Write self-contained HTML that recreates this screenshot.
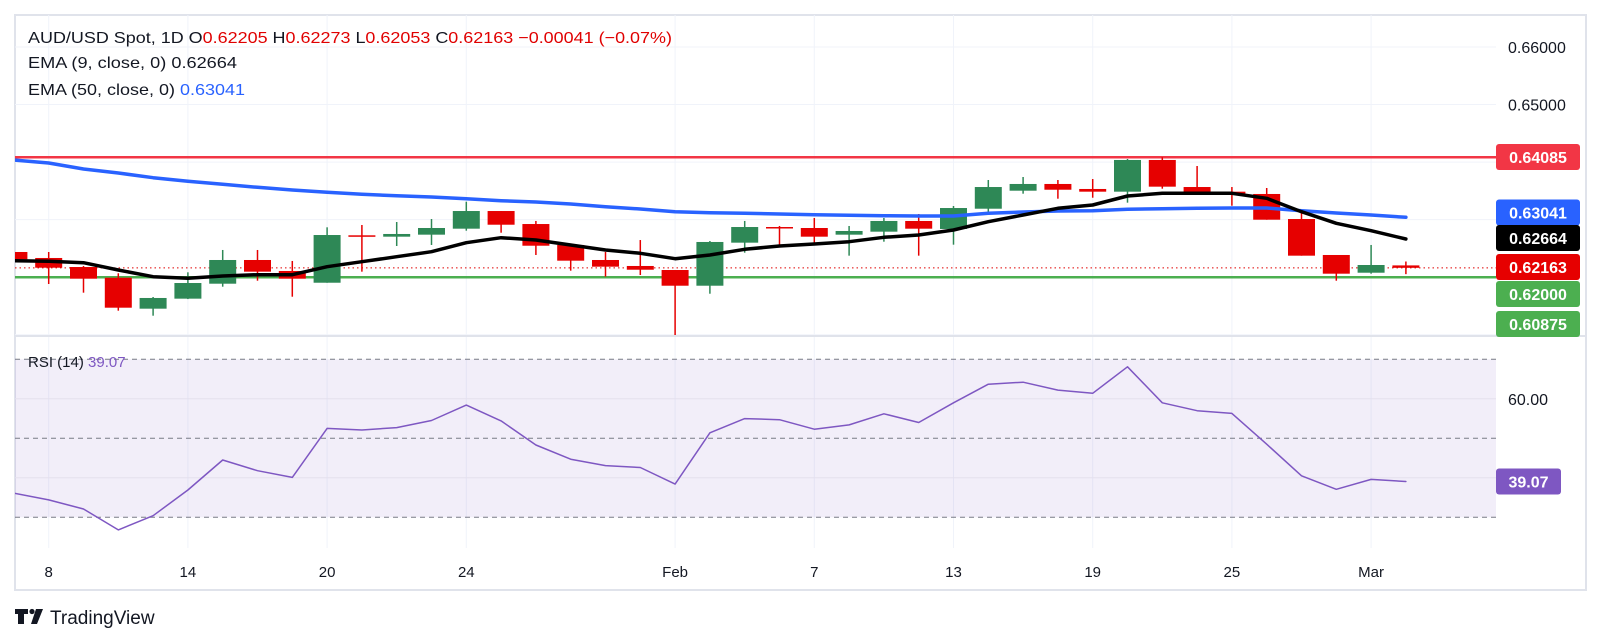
<!DOCTYPE html>
<html><head><meta charset="utf-8"><style>
html,body{margin:0;padding:0;background:#fff;}
svg{display:block;font-family:"Liberation Sans",sans-serif;}
</style></head><body>
<svg id="chart" width="1601" height="644" viewBox="0 0 1601 644" xmlns="http://www.w3.org/2000/svg">
<defs>
<clipPath id="mainClip"><rect x="15" y="15" width="1481" height="320"/></clipPath>
<clipPath id="rsiClip"><rect x="15" y="337" width="1481" height="211"/></clipPath>
</defs>
<rect x="15" y="15" width="1571" height="575" fill="#fff" stroke="#e0e3eb" stroke-width="2"/>
<g id="grid"></g>
<rect x="15" y="359.3" width="1481" height="158" fill="#7e57c2" fill-opacity="0.1"/>
<g id="rsiGuides"></g>
<line x1="15" y1="336" x2="1586" y2="336" stroke="#e0e3eb" stroke-width="2"/>
<g id="main" clip-path="url(#mainClip)"></g>
<g id="rsi" clip-path="url(#rsiClip)"></g>
<g id="axis"></g>
<g font-size="16">
<text x="28" y="43" textLength="644" lengthAdjust="spacingAndGlyphs" fill="#131722">AUD/USD Spot, 1D  O<tspan fill="#e00000">0.62205</tspan>  H<tspan fill="#e00000">0.62273</tspan>  L<tspan fill="#e00000">0.62053</tspan>  C<tspan fill="#e00000">0.62163</tspan>  <tspan fill="#e00000">−0.00041 (−0.07%)</tspan></text>
<text x="28" y="68" textLength="209" lengthAdjust="spacingAndGlyphs" fill="#131722">EMA (9, close, 0)  0.62664</text>
<text x="28" y="95" textLength="217" lengthAdjust="spacingAndGlyphs" fill="#131722">EMA (50, close, 0)  <tspan fill="#2962ff">0.63041</tspan></text>
<text x="28" y="367" font-size="15" fill="#131722">RSI (14)  <tspan fill="#7e57c2">39.07</tspan></text>
</g>
<g>
<path d="M15 609h13v5h-4v10h-6v-10h-3z" fill="#131722"/>
<circle cx="32" cy="611.5" r="2.6" fill="#131722"/>
<path d="M36 609h7l-6 15h-6z" fill="#131722"/>
<text x="50" y="624" font-size="19" fill="#131722">TradingView</text>
</g>
</svg>
<script>
const dates = ["Jan7","Jan8","Jan9","Jan10","Jan13","Jan14","Jan15","Jan16","Jan17","Jan20","Jan21","Jan22","Jan23","Jan24","Jan27","Jan28","Jan29","Jan30","Jan31","Feb3","Feb4","Feb5","Feb6","Feb7","Feb10","Feb11","Feb12","Feb13","Feb14","Feb17","Feb18","Feb19","Feb20","Feb21","Feb24","Feb25","Feb26","Feb27","Feb28","Mar3","Mar4"];
const opens = [0.62438,0.62334,0.62177,0.61991,0.61453,0.61627,0.61887,0.62299,0.62108,0.61904,0.62728,0.62704,0.62739,0.62843,0.6315,0.62924,0.6256,0.62299,0.62195,0.62125,0.61852,0.626,0.62872,0.62855,0.62739,0.62791,0.62977,0.62838,0.6319,0.63503,0.6362,0.63533,0.63486,0.64037,0.63567,0.63486,0.63446,0.63011,0.62386,0.62078,0.62205];
const highs = [0.62473,0.62438,0.62195,0.62068,0.61656,0.62085,0.62473,0.62473,0.62282,0.62867,0.62907,0.62959,0.63011,0.63312,0.6315,0.62977,0.6256,0.62438,0.62646,0.62125,0.62629,0.62977,0.6289,0.63029,0.6289,0.63029,0.63098,0.63237,0.63689,0.63741,0.63689,0.63706,0.64054,0.64085,0.63932,0.63567,0.6355,0.6315,0.62386,0.6256,0.62273];
const lows = [0.62282,0.61882,0.61731,0.61418,0.61331,0.6162,0.61835,0.61939,0.61661,0.61904,0.62096,0.62542,0.6256,0.62808,0.62773,0.62386,0.62113,0.62009,0.62038,0.60875,0.61713,0.62426,0.6256,0.6256,0.62374,0.62617,0.62374,0.62565,0.63121,0.63451,0.63364,0.63381,0.63295,0.63538,0.63451,0.63242,0.62999,0.62374,0.61939,0.62061,0.62053];
const closes = [0.62311,0.62165,0.61974,0.6147,0.61639,0.61899,0.62299,0.62096,0.61974,0.62733,0.62704,0.62751,0.62855,0.6315,0.62912,0.62547,0.62287,0.62183,0.6213,0.61852,0.62612,0.62872,0.62855,0.62704,0.62803,0.62977,0.62843,0.63202,0.63567,0.6362,0.6352,0.63486,0.64037,0.63573,0.63468,0.63434,0.62999,0.62374,0.62061,0.62212,0.62163];
const ema9 = [0.62287,0.62276,0.62252,0.62125,0.62009,0.61981,0.62021,0.62044,0.62044,0.62183,0.62269,0.62356,0.62443,0.626,0.62686,0.62646,0.6256,0.62473,0.62415,0.62321,0.62386,0.62485,0.62542,0.62577,0.62617,0.62693,0.62733,0.6282,0.62964,0.63081,0.63197,0.63255,0.63411,0.63458,0.63458,0.63458,0.63371,0.63138,0.62937,0.62808,0.62664];
const ema50 = [0.64037,0.63984,0.6388,0.63811,0.63729,0.63666,0.63614,0.63562,0.63515,0.63475,0.63441,0.63416,0.63394,0.63364,0.63329,0.63307,0.63272,0.63225,0.63185,0.63138,0.63121,0.6311,0.63098,0.63086,0.63076,0.63069,0.63063,0.63063,0.6311,0.63133,0.6315,0.63156,0.6318,0.6319,0.63197,0.63202,0.63202,0.63156,0.63116,0.63081,0.63041];
const rsiValues = [36.1,34.4,32.1,26.8,30.4,36.9,44.5,41.8,40.1,52.5,52.1,52.7,54.5,58.4,54.4,48.3,44.7,43.1,42.6,38.4,51.4,55.0,54.7,52.3,53.4,56.2,54.0,59.0,63.7,64.2,62.2,61.4,68.1,59.0,57.0,56.3,48.5,40.5,37.1,39.6,39.07];
const resistance = 0.64085;
const support = 0.62000;
const lowMark = 0.60875;
const priceTicks = [0.66,0.65,0.64,0.63,0.62,0.61];
const priceTickLabels = ["0.66000","0.65000"];
const dateTickIdx = [1,5,9,13,19,23,27,31,35,39];
const dateTickLabels = ["8","14","20","24","Feb","7","13","19","25","Mar"];
const rsiLevels = [70,50,30];
const rsiGrid = [60,40];

const NS = "http://www.w3.org/2000/svg";
const xOf = i => 13.9 + i * 34.8;
const yOf = p => 47 + (0.66 - p) * 5755;
const yR = v => 359.3 + (70 - v) * 3.95;
function mk(tag, attrs, parent){ const e=document.createElementNS(NS,tag); for(const k in attrs) e.setAttribute(k,attrs[k]); parent.appendChild(e); return e; }
const grid=document.getElementById('grid'), main=document.getElementById('main'), rsi=document.getElementById('rsi'), axis=document.getElementById('axis'), guides=document.getElementById('rsiGuides');

priceTicks.forEach(p=>{ const l=mk('line',{x1:15,x2:1496,y1:yOf(p),y2:yOf(p),stroke:'#f0f3fa','stroke-width':1},grid);

 });
dateTickIdx.forEach(i=>{ const l=mk('line',{x1:xOf(i),x2:xOf(i),y1:15,y2:548,stroke:'#f0f3fa','stroke-width':1},grid);

 });
rsiGrid.forEach(v=>{ const l=mk('line',{x1:15,x2:1496,y1:yR(v),y2:yR(v),stroke:'#e4e0ee','stroke-width':1},guides);

 });
rsiLevels.forEach(v=>{ const l=mk('line',{x1:15,x2:1496,y1:yR(v),y2:yR(v),stroke:'#787b86','stroke-width':1,'stroke-dasharray':'5,4'},guides);

 });

// horizontal levels
let hl=mk('line',{x1:15,x2:1496,y1:yOf(resistance),y2:yOf(resistance),stroke:'#f23645','stroke-width':2.5},main);


hl=mk('line',{x1:15,x2:1496,y1:yOf(support),y2:yOf(support),stroke:'#4caf50','stroke-width':2.5},main);


hl=mk('line',{x1:15,x2:1496,y1:yOf(closes[closes.length-1]),y2:yOf(closes[closes.length-1]),stroke:'#e00000','stroke-width':1,'stroke-dasharray':'1.5,3'},main);



// candles
dates.forEach((d,i)=>{
  const up = closes[i] >= opens[i]; const c = up ? '#2e8856' : '#e60000';
  const g = mk('g',{},main);
  
  
  mk('line',{x1:xOf(i),x2:xOf(i),y1:yOf(highs[i]),y2:yOf(lows[i]),stroke:c,'stroke-width':1.5},g);
  const top=yOf(Math.max(opens[i],closes[i])), bot=yOf(Math.min(opens[i],closes[i]));
  mk('rect',{x:xOf(i)-13.5,y:top,width:27,height:Math.max(1.5,bot-top),fill:c},g);
});
function line(vals, yf, color, w, parent, name){
  const pts = vals.map((v,i)=>xOf(i).toFixed(1)+','+yf(v).toFixed(1)).join(' ');
  const p = mk('polyline',{points:pts,fill:'none',stroke:color,'stroke-width':w,'stroke-linejoin':'round','stroke-linecap':'round'},parent);
  
  
}
line(ema50, yOf, '#2962ff', 3.5, main, 'ema50-line');
line(ema9, yOf, '#000000', 3.5, main, 'ema9-line');
line(rsiValues, yR, '#7e57c2', 1.5, rsi, 'rsi-line');

// price axis labels
priceTickLabels.forEach((t,k)=>{ const e=mk('text',{x:1508,y:yOf(priceTicks[k])+6,'font-size':16,fill:'#131722'},axis); e.textContent=t;

 });
const boxes = [[resistance,157,'#f23645','resistance-price-tag'],[ema50[40],212.5,'#2962ff','ema50-price-tag'],[ema9[40],238,'#000000','ema9-price-tag'],[closes[40],267,'#e60000','last-price-tag'],[support,294,'#4caf50','support-price-tag'],[lowMark,324,'#4caf50','low-price-tag']];
boxes.forEach(b=>{ const g=mk('g',{},axis);
  
  
  mk('rect',{x:1496,y:b[1]-13,width:84,height:26,rx:3,fill:b[2]},g);
  const t=mk('text',{x:1538,y:b[1]+6,'font-size':16,'font-weight':'bold',fill:'#fff','text-anchor':'middle'},g); t.textContent=b[0].toFixed(5); });
let t=mk('text',{x:1508,y:yR(60)+6,'font-size':16,fill:'#131722'},axis); t.textContent='60.00';


const rg=mk('g',{},axis);


mk('rect',{x:1496,y:yR(rsiValues[40])-13,width:65,height:26,rx:3,fill:'#7e57c2'},rg);
t=mk('text',{x:1528.5,y:yR(rsiValues[40])+6,'font-size':16,'font-weight':'bold',fill:'#fff','text-anchor':'middle'},rg); t.textContent=rsiValues[40].toFixed(2);
dateTickIdx.forEach((i,k)=>{ const e=mk('text',{x:xOf(i),y:577,'font-size':15,fill:'#131722','text-anchor':'middle'},axis); e.textContent=dateTickLabels[k];

 });
</script>
</body></html>
